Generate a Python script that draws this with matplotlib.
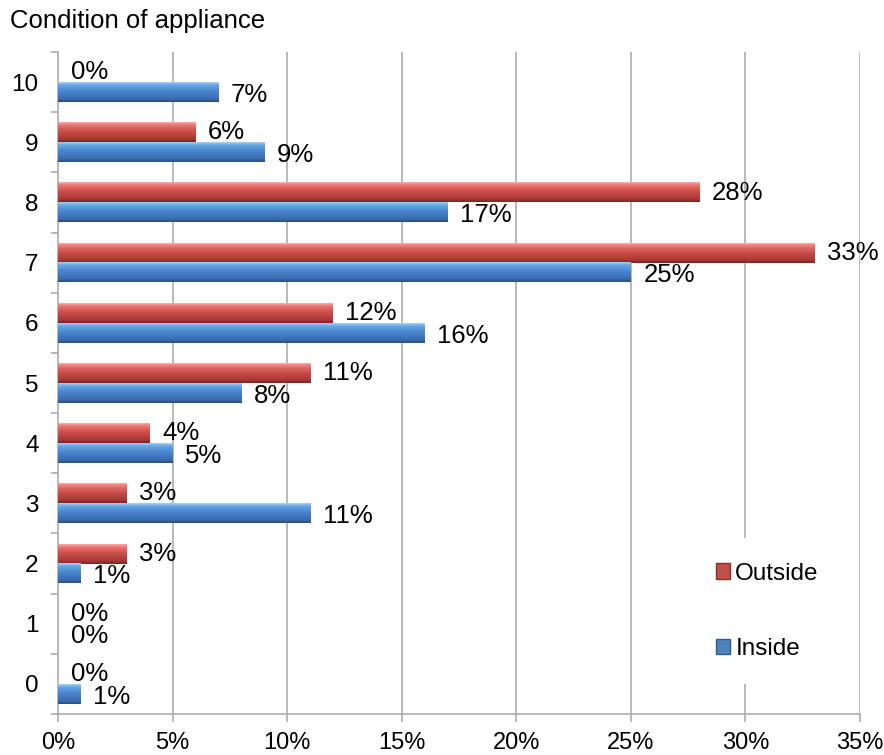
import numpy as np
import matplotlib
matplotlib.use("Agg")
import matplotlib.pyplot as plt
from matplotlib.colors import LinearSegmentedColormap
from matplotlib.patches import Patch

plt.rcParams['font.family'] = ['Liberation Sans', 'DejaVu Sans']

categories = [0, 1, 2, 3, 4, 5, 6, 7, 8, 9, 10]
outside = [0, 0, 3, 3, 4, 11, 12, 33, 28, 6, 0]
inside = [1, 0, 1, 11, 5, 8, 16, 25, 17, 9, 7]
xticks = [0, 5, 10, 15, 20, 25, 30, 35]

red_cmap = LinearSegmentedColormap.from_list(
    'red3d', [(0.0, '#f7aaa8'), (0.15, '#ec7470'), (0.45, '#cc4f4b'),
              (0.85, '#a83936'), (1.0, '#7a2523')])
blue_cmap = LinearSegmentedColormap.from_list(
    'blue3d', [(0.0, '#a6cff6'), (0.15, '#65a5e6'), (0.45, '#4a86cf'),
               (0.85, '#3a6cae'), (1.0, '#274c7c')])

fig = plt.figure(figsize=(8.84, 7.55), dpi=100)
ax = fig.add_axes([58 / 884, 1 - 714 / 755, 802 / 884, 662 / 755])

y = np.arange(len(categories))
h = 0.33
grad = np.linspace(0, 1, 64).reshape(-1, 1)


def shaded_bars(vals, offset, cmap):
    bars = ax.barh(y + offset, vals, height=h, color='none', edgecolor='none', zorder=3)
    for b in bars:
        x0, y0 = b.get_x(), b.get_y()
        w, hh = b.get_width(), b.get_height()
        if w <= 0:
            continue
        ax.imshow(grad, extent=[x0, x0 + w, y0, y0 + hh], aspect='auto',
                  cmap=cmap, origin='upper', zorder=3, interpolation='bilinear')
    return bars


shaded_bars(outside, 0.5 * h, red_cmap)
shaded_bars(inside, -0.5 * h, blue_cmap)

# value labels
for i, (o, n) in enumerate(zip(outside, inside)):
    ax.annotate('%d%%' % o, (o, y[i] + 0.5 * h), xytext=(9, 0), textcoords='offset points',
                ha='left', va='center', fontsize=18.5, color='black', zorder=5)
    ax.annotate('%d%%' % n, (n, y[i] - 0.5 * h), xytext=(9, -2), textcoords='offset points',
                ha='left', va='center', fontsize=18.5, color='black', zorder=5)

ax.set_xlim(0, 35)
ax.set_ylim(-0.5, 10.5)
ax.set_xticks(xticks)
ax.set_xticklabels(['%d%%' % t for t in xticks])
ax.set_yticks(y)
ax.set_yticklabels([str(c) for c in categories])
ax.set_yticks(np.arange(-0.5, 11, 1), minor=True)

grid_col = '#a6a6a6'
for t in xticks[1:]:
    ax.axvline(t, color=grid_col, lw=1.1, zorder=1)

for s in ['top', 'right']:
    ax.spines[s].set_visible(False)
for s in ['left', 'bottom']:
    ax.spines[s].set_color(grid_col)
    ax.spines[s].set_linewidth(1.1)

ax.tick_params(axis='x', length=6, width=1.1, color=grid_col, labelsize=17, pad=7)
ax.tick_params(axis='y', which='major', length=0, labelsize=17.5, pad=14)
ax.tick_params(axis='y', which='minor', length=5, width=1.1, color=grid_col)

handles = [Patch(facecolor='#c0504d', edgecolor='#8e2f2d', label='Outside'),
           Patch(facecolor='#4f81bd', edgecolor='#2e5c96', label='Inside')]
leg = ax.legend(handles=handles, loc='center left', bbox_to_anchor=(0.79, 0.155),
                fontsize=17.5, frameon=True, fancybox=False, labelspacing=2.2,
                handlelength=0.6, handleheight=0.6, handletextpad=0.2,
                borderpad=1.0, borderaxespad=0)
leg.get_frame().set_facecolor('white')
leg.get_frame().set_edgecolor('none')
leg.get_frame().set_alpha(1)
leg.set_zorder(4)

fig.text(10 / 884, 1 - 28 / 755, 'Condition of appliance', fontsize=18.5, va='baseline', ha='left')

fig.savefig('out.png', dpi=100)
